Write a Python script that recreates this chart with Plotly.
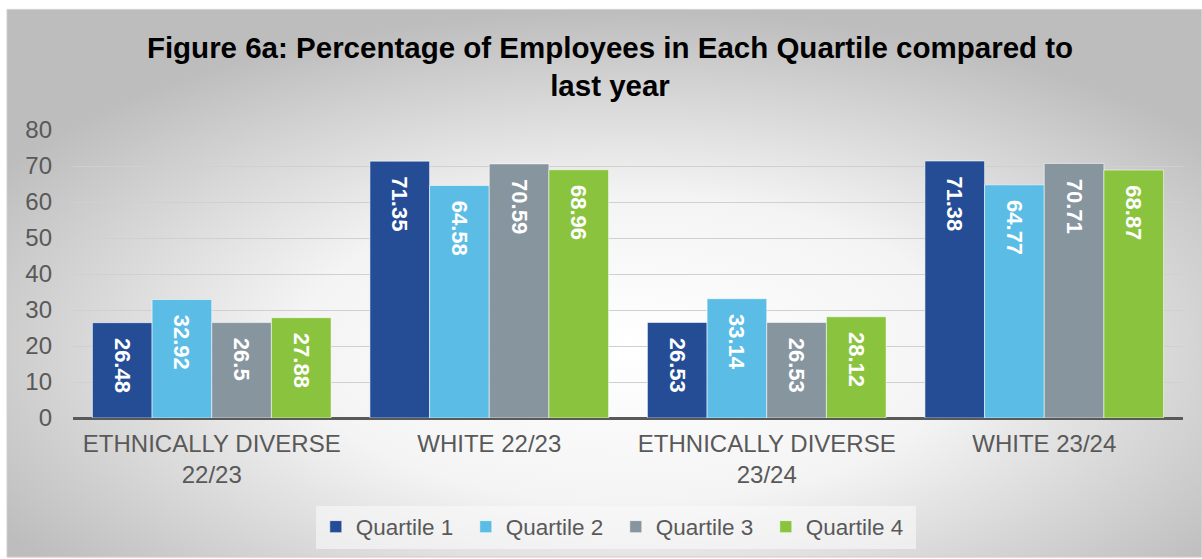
import base64
import plotly.graph_objects as go

categories = ["ETHNICALLY DIVERSE<br>22/23", "WHITE 22/23", "ETHNICALLY DIVERSE<br>23/24", "WHITE 23/24"]
series_names = ["Quartile 1", "Quartile 2", "Quartile 3", "Quartile 4"]
q1 = [26.48, 71.35, 26.53, 71.38]
q2 = [32.92, 64.58, 33.14, 64.77]
q3 = [26.5, 70.59, 26.53, 70.71]
q4 = [27.88, 68.96, 28.12, 68.87]
colors = ["#244D96", "#5BBDE6", "#87959F", "#8AC43F"]

W, H = 1202, 559
ml, mr, mt, mb = 73, 19, 130, 140
pw, ph = W - ml - mr, H - mt - mb
FONT = "Arial, Liberation Sans"

fig = go.Figure()
for name, vals, c in zip(series_names, [q1, q2, q3, q4], colors):
    fig.add_trace(go.Bar(
        x=categories, y=vals, name=name,
        marker=dict(color=c, line=dict(color="rgba(255,255,255,0.55)", width=1)),
        texttemplate="\u00a0\u00a0%{y}", textposition="inside", insidetextanchor="end",
        textangle=90, constraintext="none",
        textfont=dict(family=FONT, size=22, color="white", weight="bold"),
        cliponaxis=False,
    ))

svg = ('<svg xmlns="http://www.w3.org/2000/svg" width="1195" height="550" preserveAspectRatio="none">'
       '<defs><radialGradient id="g" cx="0.52" cy="0.62" r="0.62">'
       '<stop offset="0" stop-color="#ffffff"/><stop offset="0.45" stop-color="#f4f4f4"/>'
       '<stop offset="1" stop-color="#bdbdbd"/></radialGradient></defs>'
       '<rect width="1195" height="550" fill="url(#g)"/></svg>')
src = "data:image/svg+xml;base64," + base64.b64encode(svg.encode()).decode()

x0, ytop = 7, 9
fig.add_layout_image(dict(
    source=src, xref="paper", yref="paper",
    x=(x0 - ml) / pw, y=(H - mb - ytop) / ph,
    sizex=(W - x0) / pw, sizey=(H - ytop) / ph,
    xanchor="left", yanchor="top", sizing="stretch", layer="below"))

fig.add_shape(type="rect", xref="paper", yref="paper",
              x0=(x0 - ml) / pw, x1=(W - 0.5 - ml) / pw,
              y0=(H - mb - (H - 0.5)) / ph, y1=(H - mb - ytop) / ph,
              line=dict(color="#d0d0d0", width=1), fillcolor="rgba(0,0,0,0)", layer="below")

fig.update_layout(
    width=W, height=H,
    margin=dict(l=ml, r=mr, t=mt, b=mb),
    paper_bgcolor="white", plot_bgcolor="rgba(0,0,0,0)",
    barmode="group", bargap=0.14, bargroupgap=0,
    font=dict(family=FONT, color="#595959", size=24),
    title=dict(text="Figure 6a: Percentage of Employees in Each Quartile compared to<br>last year",
               x=610 / W, xref="container", xanchor="center",
               y=1 - 58 / H, yref="container", yanchor="top",
               font=dict(family=FONT, size=29.5, color="black", weight="bold")),
    showlegend=True,
    legend=dict(orientation="h", x=0.489, xanchor="center", y=(H - mb - 527) / ph, yanchor="middle",
                bgcolor="rgba(250,250,250,0.6)", font=dict(size=22.5, color="#595959"),
                itemwidth=30, traceorder="normal", entrywidth=105, entrywidthmode="pixels"),
)
fig.update_yaxes(range=[0, 80], dtick=10, showgrid=True, gridcolor="#d0d0d0", gridwidth=1,
                 zeroline=True, zerolinecolor="#595959", zerolinewidth=3,
                 tickfont=dict(size=24, color="#595959"), ticks="", ticklabelstandoff=20,
                 showline=False, fixedrange=True)
fig.update_xaxes(tickfont=dict(size=24, color="#595959"), ticks="", showline=False,
                 ticklabelstandoff=9, fixedrange=True)

fig.write_html("out.html")
